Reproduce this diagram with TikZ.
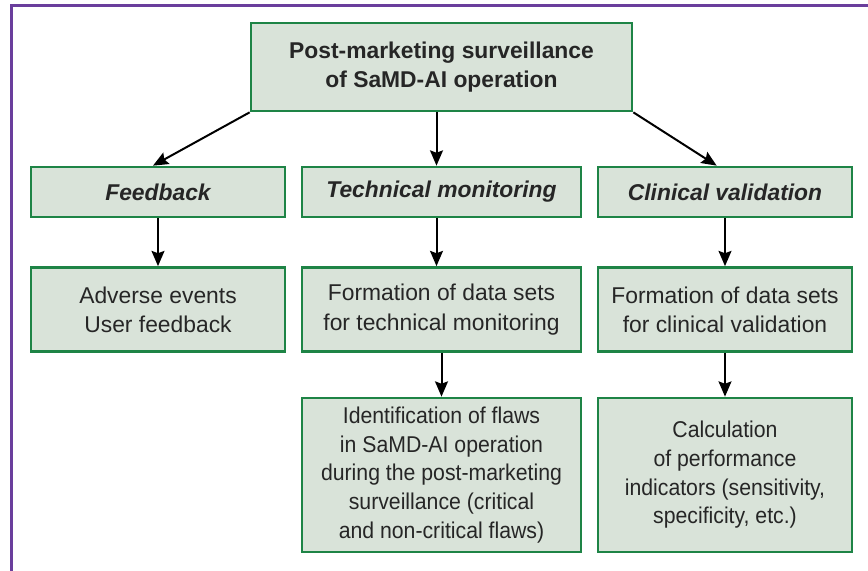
\documentclass[tikz,border=0pt]{standalone}
\usepackage{fontspec}
\setmainfont{Liberation Sans}
\newfontfamily\narrowsans[FakeStretch=0.93]{Liberation Sans}
\usepackage{xcolor}
\usetikzlibrary{arrows.meta}
\definecolor{boxfill}{HTML}{D9E3D9}
\definecolor{boxline}{HTML}{1E8446}
\definecolor{frameline}{HTML}{6A3E9C}
\tikzset{box/.style={draw=boxline,fill=boxfill,line width=2.3pt,align=center,
  inner sep=0pt,text=black!85,font=\fontsize{19.5}{25}\selectfont},
  headbox/.style={box,font=\fontsize{19.5}{25}\selectfont\bfseries\itshape},
  longbox/.style={box,font=\narrowsans\fontsize{19.5}{24.5}\selectfont},
  arr/.style={line width=1.7pt,-{Stealth[length=13pt,width=11pt,inset=2pt]}}}
\begin{document}
\begin{tikzpicture}[x=0.03cm,y=-0.03cm]
 \useasboundingbox (0,0) rectangle (868,571);
 \draw[frameline,line width=2pt] (11.5,571) -- (11.5,5.5) -- (868,5.5);
% top
 \node[box,minimum width=11.43cm,minimum height=2.64cm,font=\fontsize{19.5}{25}\selectfont\bfseries] (top) at (441.5,67) {Post-marketing surveillance\\of SaMD-AI operation};
% second row
 \node[headbox,minimum width=7.62cm,minimum height=1.5cm] (fb) at (158,192) {Feedback};
 \node[headbox,minimum width=8.37cm,minimum height=1.5cm] (tm) at (441.5,192) {Technical monitoring};
 \node[headbox,minimum width=7.62cm,minimum height=1.5cm] (cv) at (725,192) {Clinical validation};
% third row
 \node[box,minimum width=7.62cm,minimum height=2.52cm] (fbev) at (158,309.5) {Adverse events\\User feedback};
 \node[box,minimum width=8.37cm,minimum height=2.52cm] (tmdata) at (441.5,309.5) {Formation of data sets\\for technical monitoring};
 \node[box,minimum width=7.62cm,minimum height=2.52cm] (cvdata) at (725,309.5) {Formation of data sets\\for clinical validation};
% fourth row
 \node[longbox,minimum width=8.37cm,minimum height=4.62cm] (tmflaw) at (441.5,475) {Identification of flaws\\in SaMD-AI operation\\during the post-marketing\\surveillance (critical\\and non-critical flaws)};
 \node[longbox,minimum width=7.62cm,minimum height=4.62cm] (cvcalc) at (725,475) {Calculation\\of performance\\indicators (sensitivity,\\specificity, etc.)};
% arrows
 \draw[arr] (top.south west) -- ([xshift=-0.15cm]fb.north);
 \draw[arr] ([xshift=-0.15cm]top.south) -- ([xshift=-0.15cm]tm.north);
 \draw[arr] (top.south east) -- ([xshift=-0.25cm]cv.north);
 \draw[arr] (fb) -- (fbev);
 \draw[arr] ([xshift=-0.15cm]tm.south) -- ([xshift=-0.15cm]tmdata.north);
 \draw[arr] (cv) -- (cvdata);
 \draw[arr] (tmdata) -- (tmflaw);
 \draw[arr] (cvdata) -- (cvcalc);
\end{tikzpicture}
\end{document}
